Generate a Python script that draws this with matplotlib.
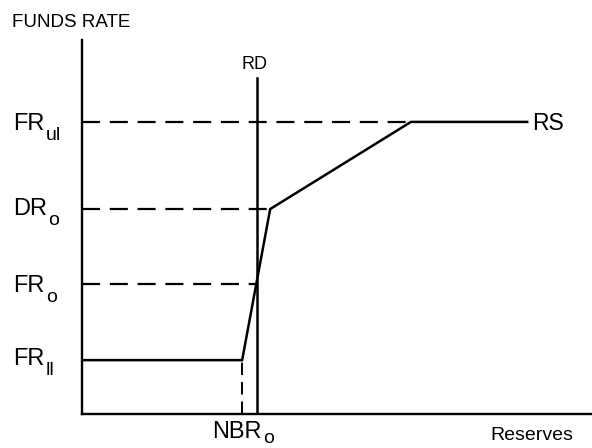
import matplotlib.pyplot as plt

plt.rcParams['font.family'] = ['Liberation Sans', 'DejaVu Sans']
plt.rcParams['lines.scale_dashes'] = False

# funds-rate levels (arbitrary units, axis runs 0-100)
level_main = ['FR', 'DR', 'FR', 'FR']
level_sub = ['ul', 'o', 'o', 'll']
level_y = [78.1, 54.8, 34.8, 14.4]
dash_end_x = [64.5, 36.9, 34.3, 0.0]   # FR_ll has no dashed guide

# reserve supply curve RS
rs_x = [0, 31.4, 36.9, 64.5, 87.3]
rs_y = [14.4, 14.4, 54.8, 78.1, 78.1]

# reserve demand RD (vertical at NBR_o)
rd_x = 34.3
rd_top = 89.8

fig = plt.figure(figsize=(5.92, 4.48), dpi=100)
ax = fig.add_axes([82 / 592, 34 / 448, 510 / 592, 374 / 448])
ax.set_xlim(0, 100)
ax.set_ylim(0, 100)

for side in ['top', 'right']:
    ax.spines[side].set_visible(False)
for side in ['left', 'bottom']:
    ax.spines[side].set_linewidth(1.7)
ax.set_xticks([])
ax.set_yticks([])

dash = (13, 7)


def label_with_sub(x, y, main, sub, size=17, sub_size=14, drop=3.5):
    # main text plus a dropped subscript, like the typeset original
    t = ax.text(x, y, main, fontsize=size, ha='left', va='baseline', clip_on=False)
    ax.annotate(sub, xy=(1, 0), xycoords=t, xytext=(1, -drop),
                textcoords='offset points', fontsize=sub_size,
                ha='left', va='baseline', annotation_clip=False)
    return t


# dashed guides from the axis to the curves
for y, x_end in zip(level_y, dash_end_x):
    if x_end > 0:
        ax.plot([0, x_end], [y, y], color='black', lw=1.6, dashes=dash)

# dashed drop from the lower kink to the reserves axis
ax.plot([rs_x[1], rs_x[1]], [0, rs_y[1]], color='black', lw=1.4, dashes=(9, 5))

# RD
ax.plot([rd_x, rd_x], [0, rd_top], color='black', lw=1.8)
ax.text(rd_x - 0.4, rd_top + 1.3, 'RD', fontsize=13, ha='center', va='bottom')

# RS
ax.plot(rs_x, rs_y, color='black', lw=1.8, solid_joinstyle='miter')
ax.text(rs_x[-1] + 0.9, 75.9, 'RS', fontsize=16.5, ha='left', va='baseline')

# labels on the funds-rate axis
label_base = [75.9, 53.2, 32.6, 13.1]
for m, s, yb in zip(level_main, level_sub, label_base):
    label_with_sub(-13.5, yb, m, s)

ax.text(-13.7, 103.5, 'FUNDS RATE', fontsize=13.5, ha='left', va='baseline', clip_on=False)
label_with_sub(25.5, -6.5, 'NBR', 'o', drop=0)
ax.text(80.0, -7.0, 'Reserves', fontsize=14, ha='left', va='baseline', clip_on=False)

fig.savefig('out.png', dpi=100)
